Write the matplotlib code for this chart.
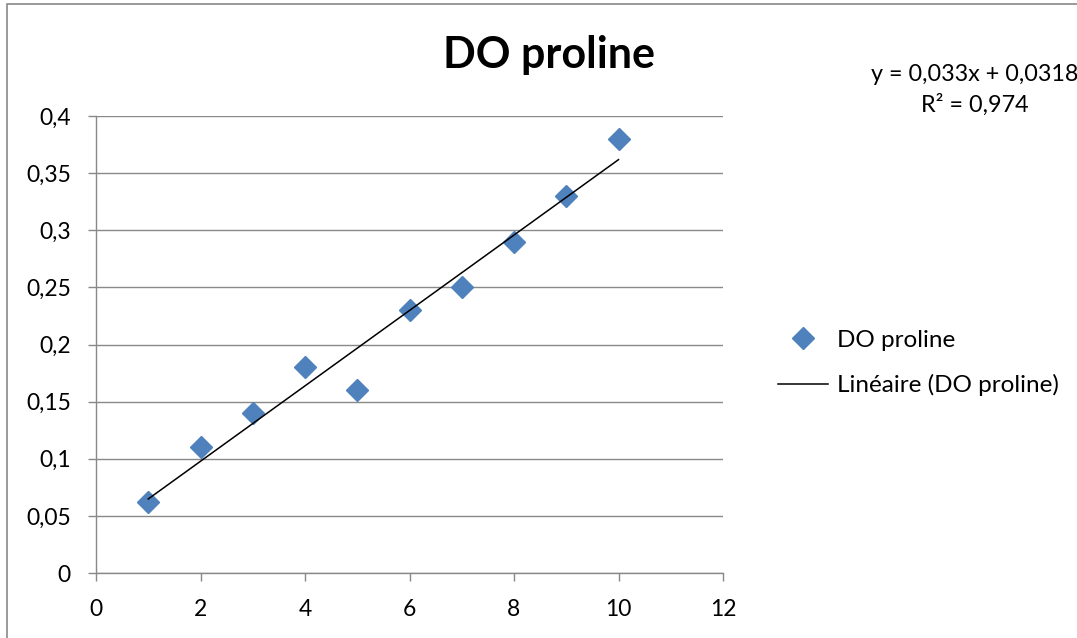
import matplotlib.pyplot as plt
from matplotlib.patches import Rectangle
from matplotlib.ticker import FuncFormatter, MultipleLocator
import numpy as np

plt.rcParams['font.family'] = ['Lato', 'DejaVu Sans']

# mesures
x = [1, 2, 3, 4, 5, 6, 7, 8, 9, 10]
do = [0.062, 0.11, 0.14, 0.18, 0.16, 0.23, 0.25, 0.29, 0.33, 0.38]

# courbe de tendance linéaire
pente = 0.033
origine = 0.0318
r2 = 0.974

gris = '#898989'
bleu = '#4F81BD'

fig = plt.figure(figsize=(10.77, 6.38), dpi=100)
ax = fig.add_axes([96 / 1077, 1 - 573 / 638, (723 - 96) / 1077, (573 - 116) / 638])

ax.plot(x, do, linestyle='none', marker='D', markersize=11, color=bleu, label='DO proline', zorder=3)
xt = np.array([x[0], x[-1]])
ax.plot(xt, pente * xt + origine, color='black', linewidth=1.1, label='Linéaire (DO proline)', zorder=4)

ax.set_xlim(0, 12)
ax.set_ylim(0, 0.4)
ax.xaxis.set_major_locator(MultipleLocator(2))
ax.yaxis.set_major_locator(MultipleLocator(0.05))
virgule = FuncFormatter(lambda v, p: f'{v:.2f}'.rstrip('0').rstrip('.').replace('.', ','))
ax.xaxis.set_major_formatter(virgule)
ax.yaxis.set_major_formatter(virgule)

ax.grid(axis='y', color=gris, linewidth=1)
ax.set_axisbelow(True)
for s in ['top', 'right']:
    ax.spines[s].set_visible(False)
for s in ['left', 'bottom']:
    ax.spines[s].set_color(gris)
    ax.spines[s].set_linewidth(1)
ax.tick_params(axis='both', colors=gris, labelcolor='black', labelsize=16.5, length=6, width=1)
ax.tick_params(axis='y', pad=12)
ax.tick_params(axis='x', pad=13)

fig.text(549 / 1077, 1 - 55 / 638, 'DO proline', ha='center', va='center', fontsize=31, fontweight='bold')
fig.text(975 / 1077, 1 - 90 / 638, f'y = {pente:.3f}x + {origine:.4f}'.replace('.', ',') + '\n'
         + f'R² = {r2:.3f}'.replace('.', ','),
         ha='center', va='center', fontsize=16.8, linespacing=1.45)

fig.legend(loc='center left', bbox_to_anchor=(778 / 1077, 1 - 363 / 638), frameon=False,
           fontsize=17.5, handlelength=2.05, handletextpad=0.37, labelspacing=0.97, numpoints=1,
           borderaxespad=0, borderpad=0)

# cadre du graphique
fig.patches.append(Rectangle((6.5 / 1077, -0.1), 1.2, 1.1 - 4.5 / 638, transform=fig.transFigure,
                             fill=False, edgecolor=gris, linewidth=1.2))

fig.savefig('out.png', dpi=100)
